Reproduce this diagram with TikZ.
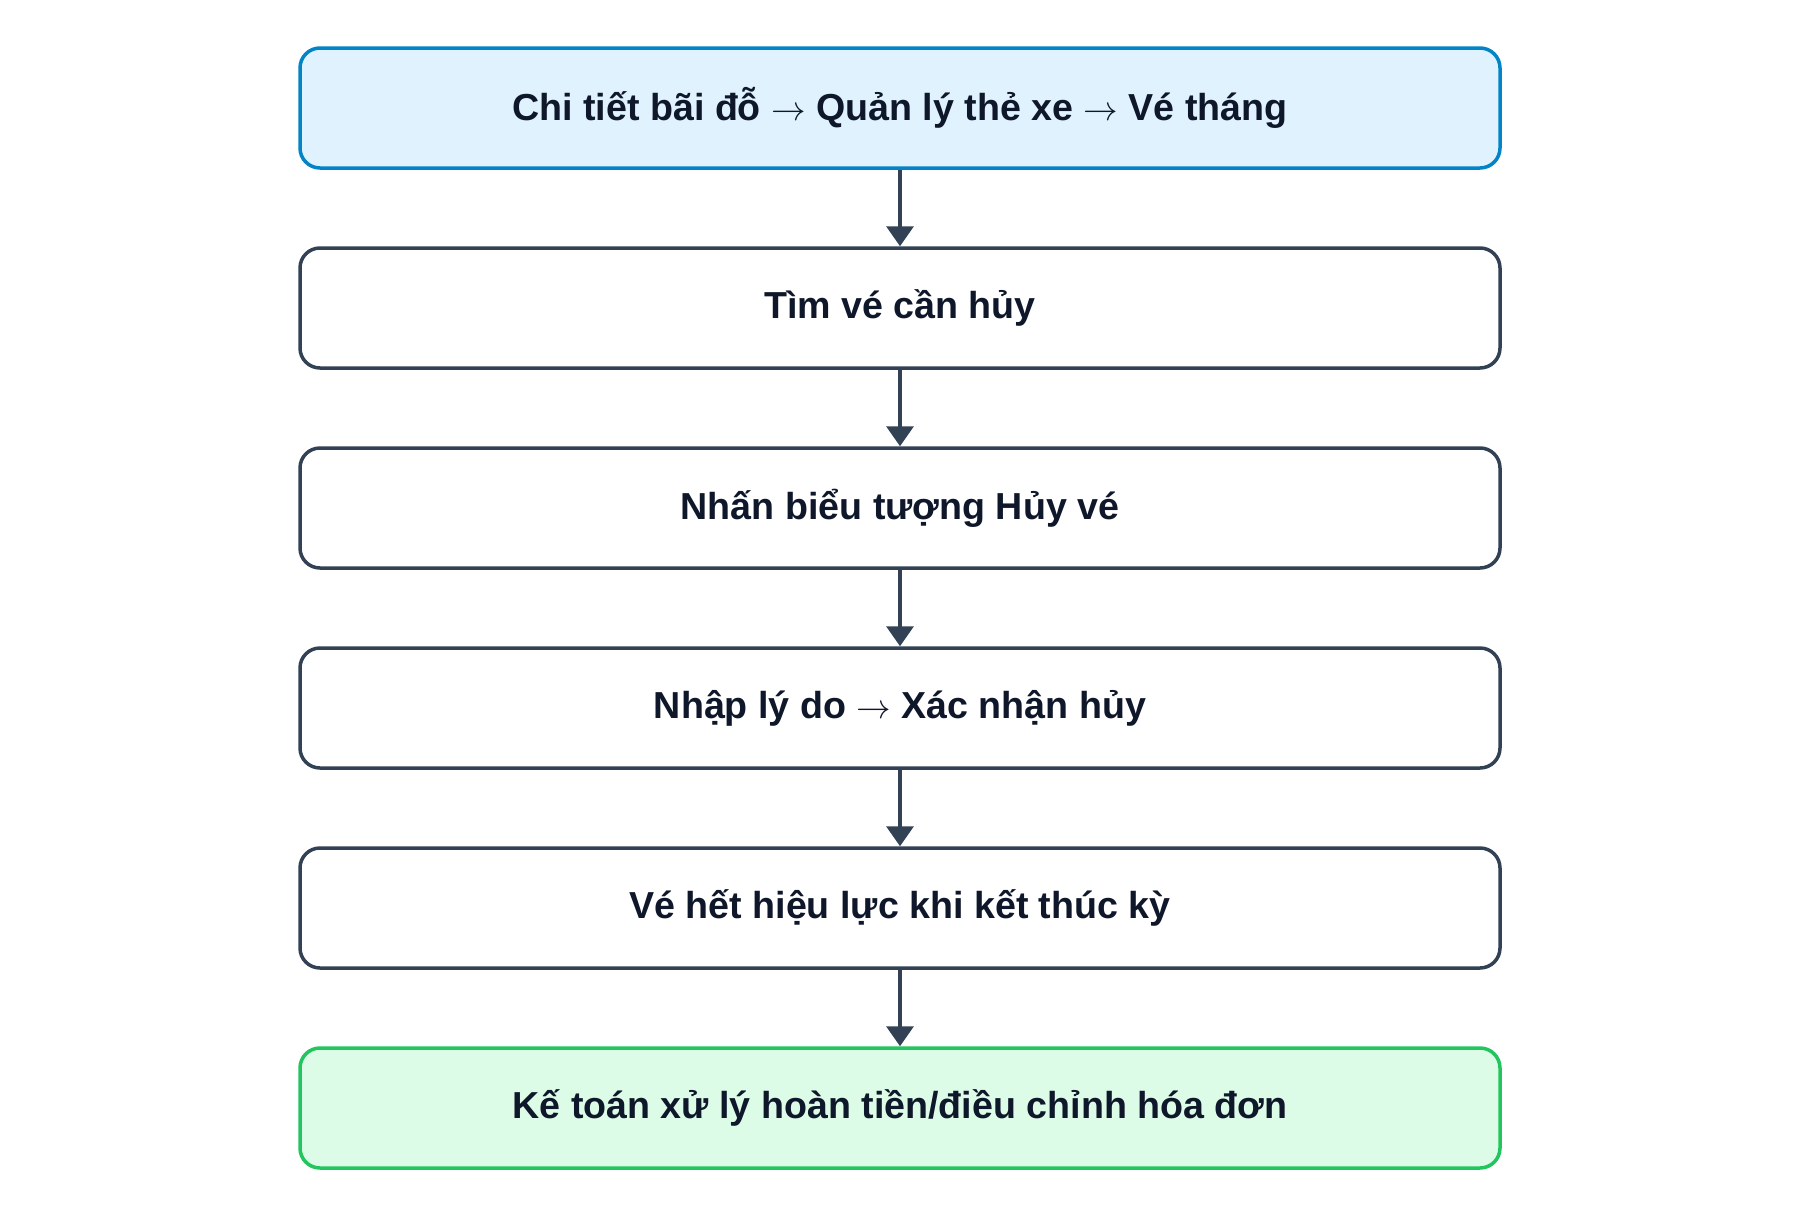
\documentclass[tikz,border=0pt]{standalone}
\usepackage{fontspec}
\setmainfont{Liberation Sans}
\usetikzlibrary{arrows.meta}
\definecolor{txt}{HTML}{0F172A}
\definecolor{edge}{HTML}{334155}
\definecolor{bluefill}{HTML}{E0F2FE}
\definecolor{blueline}{HTML}{0284C7}
\definecolor{greenfill}{HTML}{DCFCE7}
\definecolor{greenline}{HTML}{22C55E}
\newcommand{\myarr}{$\rightarrow$}
\tikzset{
  stepbox/.style={draw=edge, fill=white, line width=1.75pt, rounded corners=10pt,
    minimum width=600pt, minimum height=60pt, inner sep=0pt,
    text=txt, font=\fontsize{18.8pt}{22pt}\selectfont\bfseries},
  startbox/.style={stepbox, draw=blueline, fill=bluefill},
  endbox/.style={stepbox, draw=greenline, fill=greenfill},
  flow/.style={draw=edge, line width=1.75pt, -{Triangle[width=13.5pt,length=10pt]}}
}
\begin{document}
\begin{tikzpicture}[x=0.5pt,y=-0.5pt]
\useasboundingbox[fill=white] (0,0) rectangle (1800,1216);
\node[startbox] (n1) at (900,108) {Chi tiết bãi đỗ \myarr{} Quản lý thẻ xe \myarr{} Vé tháng};
\node[stepbox]  (n2) at (900,308) {Tìm vé cần hủy};
\node[stepbox]  (n3) at (900,508) {Nhấn biểu tượng Hủy vé};
\node[stepbox]  (n4) at (900,708) {Nhập lý do \myarr{} Xác nhận hủy};
\node[stepbox]  (n5) at (900,908) {Vé hết hiệu lực khi kết thúc kỳ};
\node[endbox]   (n6) at (900,1108) {Kế toán xử lý hoàn tiền/điều chỉnh hóa đơn};
\draw[flow] (n1) -- (n2);
\draw[flow] (n2) -- (n3);
\draw[flow] (n3) -- (n4);
\draw[flow] (n4) -- (n5);
\draw[flow] (n5) -- (n6);
\end{tikzpicture}
\end{document}
